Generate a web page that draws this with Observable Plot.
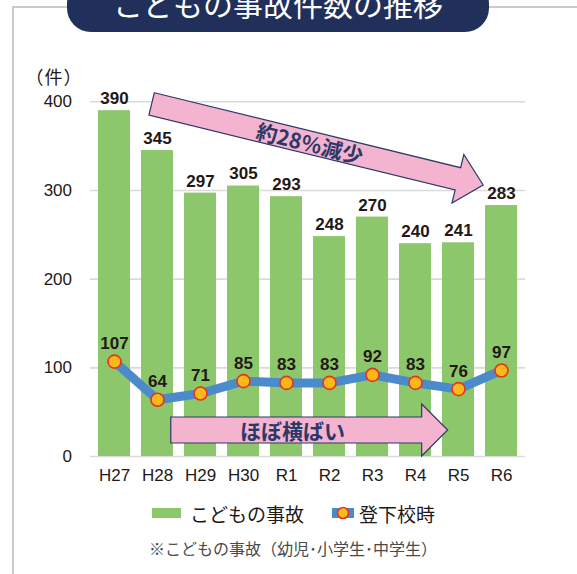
<!DOCTYPE html>
<html><head><meta charset="utf-8">
<script src="https://cdn.jsdelivr.net/npm/d3@7"></script>
<script src="https://cdn.jsdelivr.net/npm/@observablehq/plot@0.6"></script>
<style>
body{margin:0;background:#fff;}
#wrap{position:relative;width:577px;height:574px;overflow:hidden;font-family:'Liberation Sans','Noto Sans CJK JP',sans-serif;color:#231815;}
#frame{position:absolute;left:12px;top:5.5px;width:700px;height:700px;border-left:2.5px solid #cbcbcb;border-top:2.5px solid #cbcbcb;}
#title{position:absolute;left:67px;top:-20px;width:422px;height:52px;border-radius:24px;background:#20305a;color:#fff;font-family:'Noto Sans CJK JP',sans-serif;font-size:30px;line-height:46px;text-align:center;white-space:nowrap;}
#chart{position:absolute;left:0;top:0;}
#unit{position:absolute;left:24px;top:64px;width:60px;text-align:center;font-family:'Noto Sans CJK JP',sans-serif;font-size:18px;line-height:24px;letter-spacing:1px;white-space:nowrap;}
#legend{position:absolute;left:152px;top:500px;height:26px;display:flex;align-items:center;font-family:'Noto Sans CJK JP',sans-serif;font-size:19px;white-space:nowrap;}
#legend .sw{display:inline-block;}
#note{position:absolute;left:149px;top:537px;font-family:'Noto Sans CJK JP',sans-serif;font-size:16px;line-height:22px;color:#4a4a4a;white-space:nowrap;}
</style></head>
<body>
<div id="wrap">
  <div id="frame"></div>
  <div id="title"></div>
  <div id="chart"></div>
  <div id="unit"></div>
  <div id="legend"></div>
  <div id="note"></div>
</div>
<script>
const titleText = "こどもの事故件数の推移";
const categories = ["H27","H28","H29","H30","R1","R2","R3","R4","R5","R6"];
const accidents = [390,345,297,305,293,248,270,240,241,283];
const commute = [107,64,71,85,83,83,92,83,76,97];
const yTicks = [0,100,200,300,400];
const yUnit = "（件）";
const seriesNames = ["こどもの事故","登下校時"];
const note = "※こどもの事故（幼児･小学生･中学生）";
const arrowLabels = ["約28％減少","ほぼ横ばい"];
// annotation arrows in data space: [category index, value]
const arrowFrom = [[0.875,397],[1.32,29.3]];
const arrowTo = [[8.585,305.6],[7.76,29.3]];

const greenC = "#8cc76b", blueC = "#4b8bcb", dotFill = "#fbb81a", dotStroke = "#e5341e";
const ink = "#231815", arrowInk = "#2b3967", pink = "#f4b3cf";

const data = categories.map((c,i)=>({cat:c, acc:accidents[i], com:commute[i]}));

document.getElementById("title").textContent = titleText;
document.getElementById("note").textContent = note;
document.getElementById("unit").textContent = yUnit;

const plot = Plot.plot({
  width:577, height:486,
  marginLeft:90, marginRight:52, marginTop:101.3, marginBottom:30,
  style:{background:"transparent", overflow:"visible", fontFamily:"'Liberation Sans','Noto Sans CJK JP',sans-serif", fontSize:"17px", color:ink},
  x:{domain:categories, paddingInner:0.26, paddingOuter:0.136, label:null},
  y:{domain:[0,400], label:null},
  marks:[
    Plot.gridY(yTicks,{stroke:"#dadada", strokeOpacity:1, strokeWidth:1.6}),
    Plot.axisY(yTicks,{tickSize:0, tickPadding:18.5, fontSize:17, label:null, fill:ink}),
    Plot.axisX({tickSize:0, tickPadding:12, fontSize:17, label:null, fill:ink}),
    Plot.barY(data,{x:"cat", y:"acc", fill:greenC}),
    Plot.text(data,{x:"cat", y:"acc", text:d=>String(d.acc), dy:-12, fontWeight:"bold", fontSize:17, fill:ink}),
    Plot.line(data,{x:"cat", y:"com", stroke:blueC, strokeWidth:9, strokeLinejoin:"round"}),
    Plot.dot(data,{x:"cat", y:"com", r:6.5, fill:dotFill, stroke:dotStroke, strokeWidth:1.6}),
    Plot.text(data,{x:"cat", y:"com", text:d=>String(d.com), dy:-18, fontWeight:"bold", fontSize:17, fill:ink})
  ]
});
document.getElementById("chart").appendChild(plot);

// arrows through the plot's own scales
const sx = plot.scale("x"), sy = plot.scale("y");
const c0 = sx.apply(categories[0]) + sx.bandwidth/2;
const step = sx.apply(categories[1]) - sx.apply(categories[0]);
const px = i => c0 + i*step;
const svg = d3.select(plot);
const lineG = svg.select('g[aria-label="line"]').node();
const arrowG = lineG ? svg.insert("g", () => lineG) : svg.append("g");
const geo = [
  {w:11.5, h:25, L:26, t:0.478},
  {w:13, h:26, L:26, t:0.44}
];
arrowFrom.forEach((f,k)=>{
  const T = [px(f[0]), sy.apply(f[1])];
  const P = [px(arrowTo[k][0]), sy.apply(arrowTo[k][1])];
  const dx = P[0]-T[0], dy = P[1]-T[1], len = Math.hypot(dx,dy);
  const u = [dx/len, dy/len], n = [-u[1], u[0]];
  const {w,h,L,t} = geo[k];
  const B = [P[0]-L*u[0], P[1]-L*u[1]];
  const pt = (o,s)=>[o[0]+s*n[0], o[1]+s*n[1]];
  const pts = [pt(T,-w), pt(B,-w), pt(B,-h), P, pt(B,h), pt(B,w), pt(T,w)];
  arrowG.append("polygon").attr("points", pts.map(p=>p.join(",")).join(" "))
    .attr("fill", pink).attr("stroke", arrowInk).attr("stroke-width", 1.2).attr("stroke-linejoin","miter");
  const C = [T[0]+t*dx, T[1]+t*dy];
  const ang = Math.atan2(dy,dx)*180/Math.PI;
  arrowG.append("text").text(arrowLabels[k])
    .attr("transform", `translate(${C[0]},${C[1]}) rotate(${ang})`)
    .attr("text-anchor","middle").attr("dominant-baseline","central")
    .attr("font-family","'Noto Sans CJK JP',sans-serif").attr("font-weight","bold")
    .attr("font-size",21).attr("fill",arrowInk);
});

// legend
const lg = document.getElementById("legend");
lg.innerHTML =
  `<span class="sw" style="width:29px;height:10px;background:${greenC};margin-right:9px"></span>` +
  `<span>${seriesNames[0]}</span>` +
  `<svg class="sw" width="22" height="14" style="margin-left:28px;margin-right:5px"><rect x="0" y="2" width="22" height="10" fill="${blueC}"/><circle cx="11" cy="7" r="5.5" fill="${dotFill}" stroke="${dotStroke}" stroke-width="1.6"/></svg>` +
  `<span>${seriesNames[1]}</span>`;
</script>
</body></html>
